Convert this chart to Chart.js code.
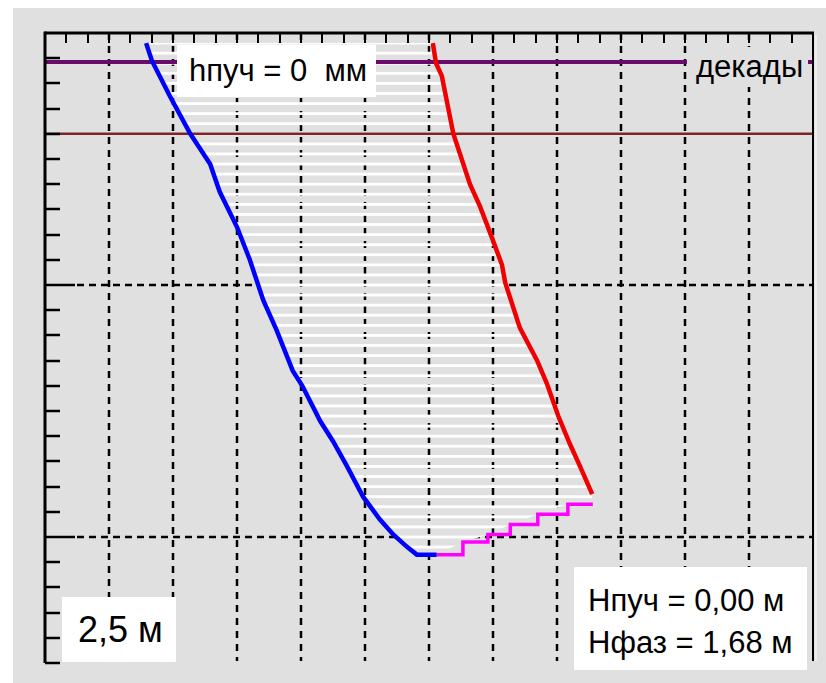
<!DOCTYPE html>
<html>
<head>
<meta charset="utf-8">
<script src="https://cdn.jsdelivr.net/npm/chart.js@4.4.1/dist/chart.umd.min.js"></script>
<style>
  body { margin: 0; background: #fff; }
  #wrap { position: relative; width: 826px; height: 683px; }
  #chart { position: absolute; left: 0; top: 0; display: block; }
  .box {
    position: absolute;
    box-sizing: border-box;
    font-family: "Liberation Sans", Arial, sans-serif;
    color: #000;
    white-space: pre;
  }
</style>
</head>
<body>
<div id="wrap">
  <canvas id="chart" width="826" height="683"></canvas>
  <div class="box" style="left:177px;top:45px;width:199px;height:52px;background:#fff;font-size:31px;line-height:52px;padding-left:12px;">hпуч = 0  мм</div>
  <div class="box" style="left:687px;top:47px;width:121px;height:40px;background:#e0e0e0;font-size:31px;line-height:40px;padding-left:9px;">декады</div>
  <div class="box" style="left:62px;top:597px;width:114px;height:65px;background:#fff;font-size:36px;line-height:65px;padding-left:16px;">2,5 м</div>
  <div class="box" style="left:574px;top:567px;width:233px;height:103px;background:#fff;font-size:31px;line-height:42px;padding-left:14px;padding-top:13px;">Нпуч = 0,00 м
Нфаз = 1,68 м</div>
</div>

<script>
// boundary of the frozen zone (left curve)
const blueX = [-4.42, -4.33, -4.05, -3.73, -3.42, -3.27, -3.00, -2.80, -2.59, -2.38, -2.13, -1.98, -1.70, -1.50, -1.28, -1.03, -0.77, -0.56, -0.34, -0.19, 0.12];
const blueDepth = [0.04, 0.11, 0.25, 0.40, 0.52, 0.63, 0.77, 0.90, 1.06, 1.18, 1.34, 1.40, 1.54, 1.62, 1.72, 1.84, 1.93, 1.99, 2.04, 2.07, 2.07];

// right curve
const redX = [0.06, 0.11, 0.20, 0.38, 0.64, 0.80, 0.98, 1.14, 1.19, 1.42, 1.69, 1.84, 2.02, 2.20, 2.36, 2.55];
const redDepth = [0.04, 0.12, 0.17, 0.40, 0.60, 0.69, 0.81, 0.92, 0.99, 1.17, 1.30, 1.39, 1.52, 1.63, 1.72, 1.83];

// stepped bottom curve
const magX = [0.12, 0.53, 0.92, 1.27, 1.70, 2.17, 2.56];
const magDepth = [2.07, 2.02, 1.99, 1.95, 1.91, 1.87, 1.87];

// horizontal level lines
const levelX = [-6, 6];
const purpleDepth = [0.115, 0.115];
const maroonDepth = [0.40, 0.40];

// axes
const xTicks = [-6, -5, -4, -3, -2, -1, 0, 1, 2, 3, 4, 5, 6];
const xGrid = [-5, -4, -3, -2, -1, 0, 1, 2, 3, 4, 5];
const depthGrid = [1, 2];
const depthTicks = [0.1, 0.2, 0.3, 0.4, 0.5, 0.6, 0.7, 0.8, 0.9, 1.0,
                    1.1, 1.2, 1.3, 1.4, 1.5, 1.6, 1.7, 1.8, 1.9, 2.0,
                    2.1, 2.2, 2.3, 2.4, 2.5];
const hatchStep = 0.04;

const panelColor = '#e0e0e0';

function toPoints(xs, ys) {
  let pts = [];
  for (let i = 0; i < xs.length; i++) {
    pts.push({ x: xs[i], y: ys[i] });
  }
  return pts;
}

// outline of the hatched zone: left curve down, bottom curve right, right curve up
let zoneX = blueX.concat(magX.slice(1), redX.slice().reverse());
let zoneDepth = blueDepth.concat(magDepth.slice(1), redDepth.slice().reverse());

function hatchPattern(chart) {
  let yScale = chart.scales.y;
  if (!yScale) return 'rgba(0,0,0,0)';
  let c = document.createElement('canvas');
  c.width = 8;
  c.height = chart.height;
  let g = c.getContext('2d');
  g.fillStyle = '#ffffff';
  for (let d = hatchStep; d < yScale.max; d += hatchStep) {
    let y = yScale.getPixelForValue(d);
    g.fillRect(0, y - 1.4, 8, 2.8);
  }
  return chart.ctx.createPattern(c, 'repeat');
}

function dashedLine(ctx, x1, y1, x2, y2, dash) {
  ctx.setLineDash(dash);
  ctx.beginPath();
  ctx.moveTo(x1, y1);
  ctx.lineTo(x2, y2);
  ctx.stroke();
  ctx.setLineDash([]);
}

const framePlugin = {
  id: 'frame',
  beforeDraw(chart) {
    let ctx = chart.ctx;
    ctx.save();
    ctx.fillStyle = '#fff';
    ctx.fillRect(0, 0, chart.width, chart.height);
    ctx.fillStyle = panelColor;
    ctx.fillRect(13, 8, chart.width - 13, chart.height - 8);
    ctx.restore();
  },
  beforeDatasetsDraw(chart) {
    let ctx = chart.ctx;
    let a = chart.chartArea;
    ctx.save();
    ctx.strokeStyle = '#000';
    ctx.lineWidth = 2.5;
    for (let d of depthGrid) {
      let y = Math.round(chart.scales.y.getPixelForValue(d));
      dashedLine(ctx, a.left + 32, y, a.right, y, [7, 5]);
    }
    ctx.restore();
  },
  afterDatasetDraw(chart, args) {
    if (chart.data.datasets[args.index].label !== 'zoneBase') return;
    let ctx = chart.ctx;
    let a = chart.chartArea;
    ctx.save();
    ctx.strokeStyle = '#000';
    ctx.lineWidth = 2.5;
    for (let v of xGrid) {
      let x = Math.round(chart.scales.x.getPixelForValue(v));
      dashedLine(ctx, x, a.top, x, a.bottom - 2, [7, 6]);
    }
    ctx.restore();
  },
  afterDatasetsDraw(chart) {
    let ctx = chart.ctx;
    let a = chart.chartArea;
    let xs = chart.scales.x, ys = chart.scales.y;
    ctx.save();
    ctx.strokeStyle = '#000';

    // minor ticks along the top, three per grid cell
    ctx.lineWidth = 2;
    for (let i = 0; i < xTicks.length - 1; i++) {
      for (let k = 0; k < 3; k++) {
        let v = xTicks[i] + (xTicks[i + 1] - xTicks[i]) * k / 3;
        let x = Math.round(xs.getPixelForValue(v));
        dashedLine(ctx, x, a.top, x, a.top + 10, []);
      }
    }

    // depth ticks on the left
    ctx.lineWidth = 2.5;
    for (let d of depthTicks) {
      let y = Math.round(ys.getPixelForValue(d));
      let len = depthGrid.includes(d) ? 30 : 15;
      dashedLine(ctx, a.left, y, a.left + len, y, []);
    }

    // frame
    ctx.lineWidth = 3;
    dashedLine(ctx, a.left, a.top, a.right + 1, a.top, []);
    dashedLine(ctx, a.left, a.top - 1.5, a.left, a.bottom, []);
    ctx.lineWidth = 2;
    dashedLine(ctx, a.right, a.top, a.right, a.bottom - 2, []);
    ctx.strokeStyle = '#fff';
    ctx.lineWidth = 1;
    dashedLine(ctx, a.right + 3, a.top + 2, a.right + 3, a.bottom - 2, []);
    ctx.restore();
  }
};

let chart = new Chart(document.getElementById('chart'), {
  type: 'scatter',
  data: {
    datasets: [
      {
        label: 'zoneBase',
        data: toPoints(zoneX, zoneDepth),
        showLine: true,
        fill: 'shape',
        backgroundColor: panelColor,
        borderColor: 'rgba(0,0,0,0)',
        borderWidth: 0,
        pointRadius: 0,
        order: 10
      },
      {
        label: 'zoneHatch',
        data: toPoints(zoneX, zoneDepth),
        showLine: true,
        fill: 'shape',
        backgroundColor: function(ctx) { return hatchPattern(ctx.chart); },
        borderColor: 'rgba(0,0,0,0)',
        borderWidth: 0,
        pointRadius: 0,
        order: 9
      },
      {
        label: 'purple',
        data: toPoints(levelX, purpleDepth),
        showLine: true,
        borderColor: '#6a0a6c',
        borderWidth: 4,
        pointRadius: 0,
        order: 8
      },
      {
        label: 'maroon',
        data: toPoints(levelX, maroonDepth),
        showLine: true,
        borderColor: '#7a2626',
        borderWidth: 2.5,
        pointRadius: 0,
        order: 8
      },
      {
        label: 'magenta',
        data: toPoints(magX, magDepth),
        showLine: true,
        stepped: 'before',
        borderColor: '#ff00ff',
        borderWidth: 3.5,
        pointRadius: 0,
        order: 2
      },
      {
        label: 'red',
        data: toPoints(redX, redDepth),
        showLine: true,
        borderColor: '#f00000',
        borderWidth: 4.5,
        pointRadius: 0,
        order: 1
      },
      {
        label: 'blue',
        data: toPoints(blueX, blueDepth),
        showLine: true,
        borderColor: '#0000ff',
        borderWidth: 4.5,
        pointRadius: 0,
        order: 1
      }
    ]
  },
  options: {
    responsive: false,
    animation: false,
    devicePixelRatio: 1,
    events: [],
    layout: { autoPadding: false, padding: { left: 45, top: 33, right: 13, bottom: 20 } },
    scales: {
      x: { type: 'linear', min: -6, max: 6, display: false },
      y: { type: 'linear', min: 0, max: 2.5, reverse: true, display: false }
    },
    plugins: {
      legend: { display: false },
      tooltip: { enabled: false }
    }
  },
  plugins: [framePlugin]
});
</script>
</body>
</html>
